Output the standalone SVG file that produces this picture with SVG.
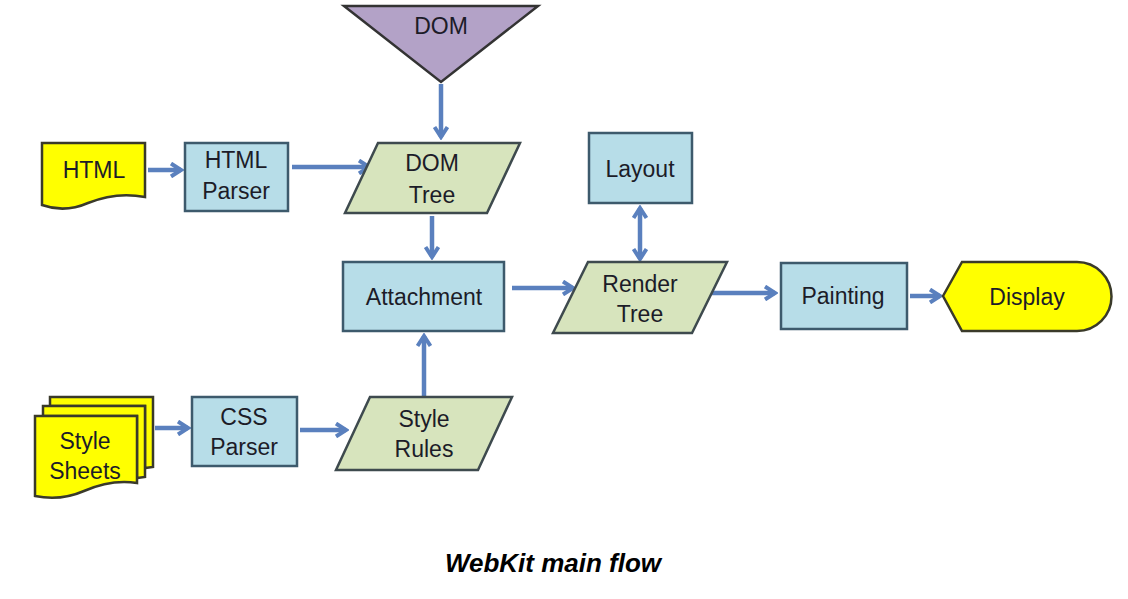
<svg xmlns="http://www.w3.org/2000/svg" width="1128" height="599" viewBox="0 0 1128 599">
<style>
.box{fill:#b7dde8;stroke:#3d5a6c;stroke-width:2.5}
.data{fill:#d7e4bd;stroke:#3e4a4e;stroke-width:2.5}
.doc{fill:#ffff00;stroke:#3a3a2a;stroke-width:2.5}
.dom{fill:#b3a2c7;stroke:#333333;stroke-width:2.5}
.lbl{font-family:"Liberation Sans",Arial,sans-serif;font-size:23px;fill:#1c1c28;text-anchor:middle}
.conn{stroke:#5a80be;stroke-width:4.5;fill:none;marker-end:url(#ah)}
.cap{font-family:"Liberation Sans",Arial,sans-serif;font-size:26px;font-weight:bold;font-style:italic;fill:#000;text-anchor:middle}
</style>
<defs>
<marker id="ah" viewBox="0 0 16 16" refX="13" refY="8" markerWidth="16" markerHeight="16" markerUnits="userSpaceOnUse" orient="auto-start-reverse">
<polyline points="3,1.5 13,8 3,14.5" fill="none" stroke="#5a80be" stroke-width="4" stroke-linejoin="miter"/>
</marker>
</defs>
<rect width="1128" height="599" fill="#ffffff"/>
<g id="connectors">
<line class="conn" x1="441" y1="84" x2="441" y2="137"/>
<line class="conn" x1="148" y1="170" x2="181" y2="170"/>
<line class="conn" x1="292" y1="167" x2="369" y2="167"/>
<line class="conn" x1="432" y1="216" x2="432" y2="257"/>
<line class="conn" x1="424" y1="397" x2="424" y2="336"/>
<line class="conn" x1="155" y1="428" x2="188" y2="428"/>
<line class="conn" x1="300" y1="430" x2="346" y2="430"/>
<line class="conn" x1="512" y1="288" x2="573" y2="288"/>
<line class="conn" x1="640" y1="208" x2="640" y2="259" style="marker-start:url(#ah)"/>
<line class="conn" x1="712" y1="293" x2="775" y2="293"/>
<line class="conn" x1="910" y1="296" x2="940" y2="296"/>
</g>
<g id="dom">
<polygon class="dom" points="344,6 538,6 441,82"/>
<text class="lbl" x="441" y="34">DOM</text>
</g>
<g id="html">
<path class="doc" d="M42,143 H145 V197 C125,193 105,196 88,203 C72,210 56,210 42,205 Z"/>
<text class="lbl" x="94" y="178">HTML</text>
</g>
<g id="html-parser">
<rect class="box" x="185" y="143" width="103" height="68"/>
<text class="lbl" x="236" y="168">HTML</text>
<text class="lbl" x="236" y="199">Parser</text>
</g>
<g id="dom-tree">
<polygon class="data" points="378,143 520,143 487,213 345,213"/>
<text class="lbl" x="432" y="171">DOM</text>
<text class="lbl" x="432" y="203">Tree</text>
</g>
<g id="attachment">
<rect class="box" x="343" y="262" width="161" height="69"/>
<text class="lbl" x="424" y="305">Attachment</text>
</g>
<g id="style-sheets">
<path class="doc" d="M50,397 H153 V467 L145,468 V406 H50 Z"/>
<path class="doc" d="M43,406 H145 V477 L137,478 V416 H43 Z"/>
<path class="doc" d="M35,416 H137 V483 C118,480 100,484 84,491 C68,498 50,499 35,496 Z"/>
<text class="lbl" x="85" y="449">Style</text>
<text class="lbl" x="85" y="479">Sheets</text>
</g>
<g id="css-parser">
<rect class="box" x="192" y="397" width="105" height="69"/>
<text class="lbl" x="244" y="425">CSS</text>
<text class="lbl" x="244" y="455">Parser</text>
</g>
<g id="style-rules">
<polygon class="data" points="370,397 512,397 478,470 336,470"/>
<text class="lbl" x="424" y="427">Style</text>
<text class="lbl" x="424" y="457">Rules</text>
</g>
<g id="layout">
<rect class="box" x="589" y="133" width="103" height="70"/>
<text class="lbl" x="640" y="177">Layout</text>
</g>
<g id="render-tree">
<polygon class="data" points="588,262 727,262 692,333 553,333"/>
<text class="lbl" x="640" y="292">Render</text>
<text class="lbl" x="640" y="322">Tree</text>
</g>
<g id="painting">
<rect class="box" x="781" y="263" width="126" height="66"/>
<text class="lbl" x="843" y="304">Painting</text>
</g>
<g id="display">
<path class="doc" d="M943,296 L962,262 H1077 A34.5,34.5 0 0 1 1077,331 H962 Z"/>
<text class="lbl" x="1027" y="305">Display</text>
</g>
<text class="cap" x="553" y="572">WebKit main flow</text>
</svg>
